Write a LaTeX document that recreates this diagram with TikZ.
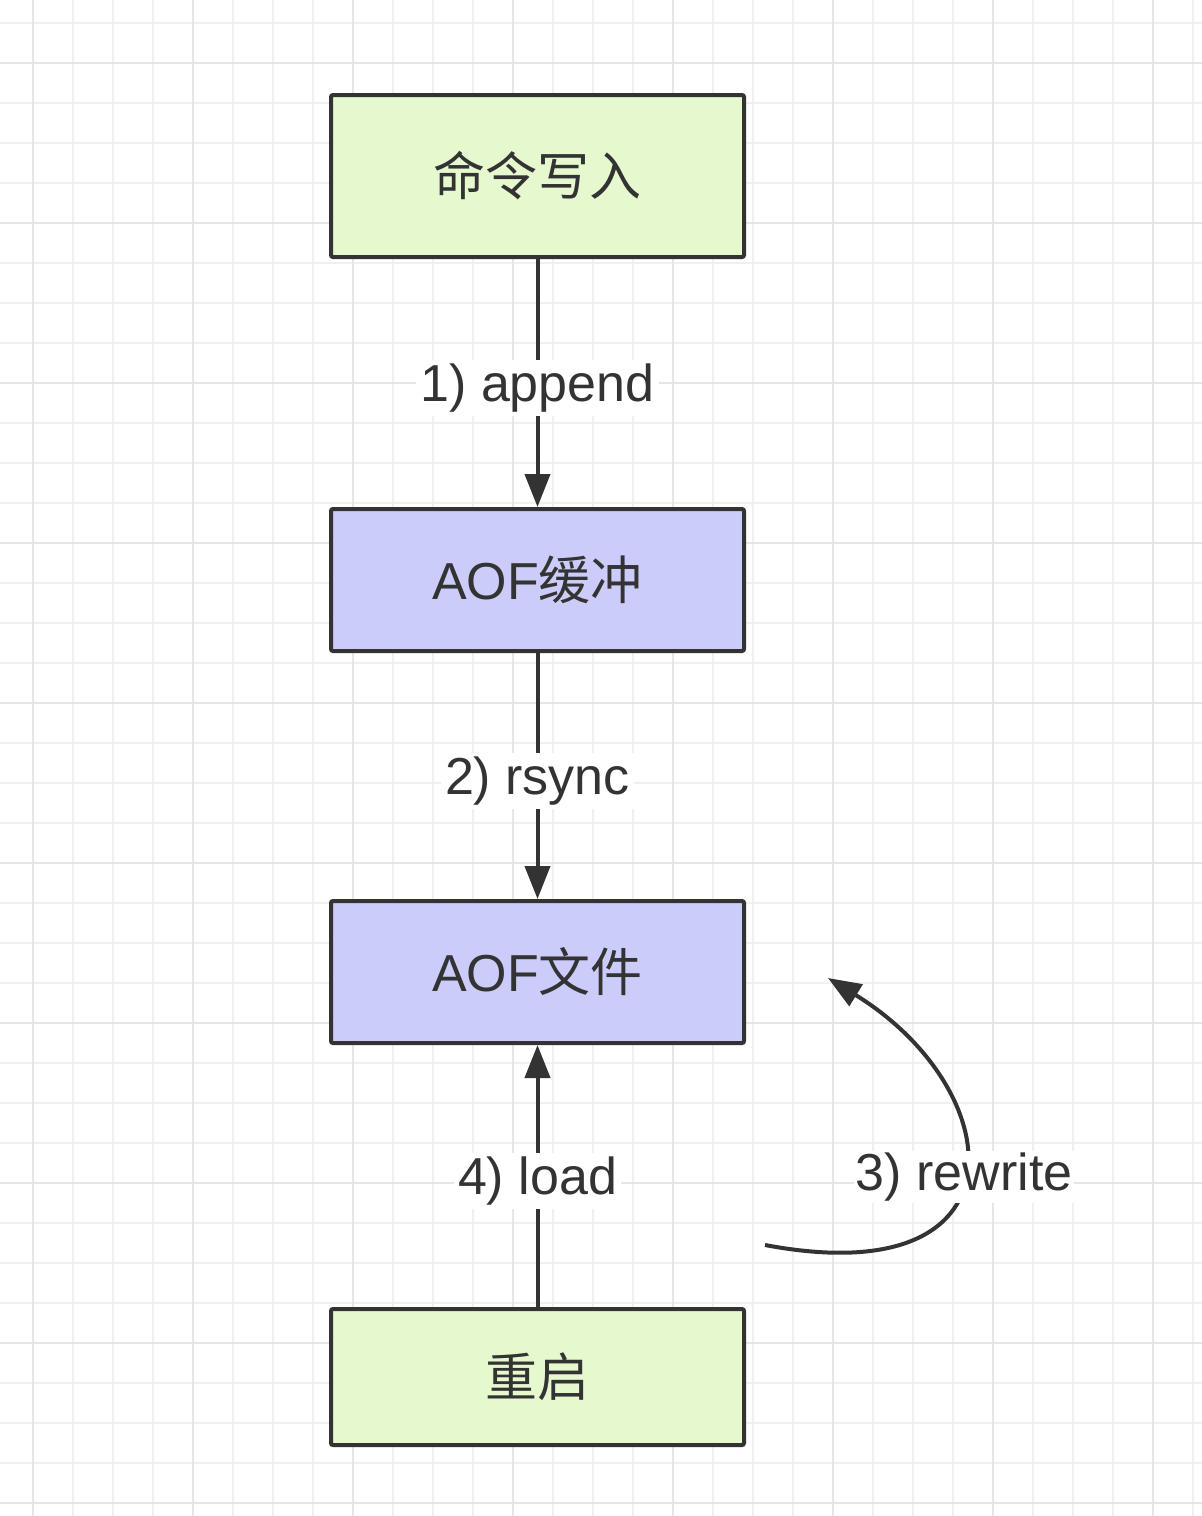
\documentclass[tikz,border=0pt]{standalone}
\usepackage{fontspec}
\setmainfont{Liberation Sans}
\newfontfamily\cjk{Noto Sans CJK SC}
\usetikzlibrary{arrows.meta}
\definecolor{ink}{HTML}{333333}
\definecolor{greenfill}{RGB}{230,249,206}
\definecolor{bluefill}{RGB}{204,204,250}
\definecolor{gridminor}{RGB}{240,240,240}
\definecolor{gridmajor}{RGB}{230,230,230}
\tikzset{
  box/.style={draw=ink, line width=4pt, rounded corners=2pt, minimum width=413pt,
    inner sep=0pt, text=ink, font=\fontsize{52}{62}\selectfont},
  gbox/.style={box, fill=greenfill},
  bbox/.style={box, fill=bluefill},
  arr/.style={draw=ink, line width=4pt, -{Triangle[length=33pt,width=25pt]}},
  lbl/.style={fill=white, text=ink, inner sep=4pt, yshift=-5pt, font=\fontsize{52}{62}\selectfont}
}
\begin{document}
\begin{tikzpicture}[x=1pt,y=-1pt]
\useasboundingbox (0,0) rectangle (1202,1516);
\fill[white] (0,0) rectangle (1202,1516);
% grid
\foreach \gx in {33,73,...,1200} \draw[gridminor, line width=1.2pt] (\gx,0) -- (\gx,1516);
\foreach \gy in {23,63,...,1516} \draw[gridminor, line width=1.2pt] (0,\gy) -- (1202,\gy);
\foreach \gx in {33,193,...,1200} \draw[gridmajor, line width=1.4pt] (\gx,0) -- (\gx,1516);
\foreach \gy in {63,223,...,1516} \draw[gridmajor, line width=1.4pt] (0,\gy) -- (1202,\gy);
% boxes
\node[gbox, minimum height=162pt] (cmd) at (537.5,176) {{\cjk 命令写入}};
\node[bbox, minimum height=142pt] (buf) at (537.5,580) {AOF{\cjk 缓冲}};
\node[bbox, minimum height=142pt] (file) at (537.5,972) {AOF{\cjk 文件}};
\node[gbox, minimum height=136pt] (restart) at (537.5,1377) {{\cjk 重启}};
% connectors
\draw[arr] (cmd) -- node[lbl]{1) append} (buf);
\draw[arr] (buf) -- node[lbl]{2) rsync} (file);
\draw[arr] (restart) -- node[lbl]{4) load} (file);
\coordinate (rwstart) at (765,1245);
\coordinate (rwend) at (828,978);
\draw[arr] (rwstart) .. controls (1030,1295) and (1010,1090) .. (rwend)
  node[lbl, pos=0.5, inner sep=2pt] {3) rewrite};
\end{tikzpicture}
\end{document}
